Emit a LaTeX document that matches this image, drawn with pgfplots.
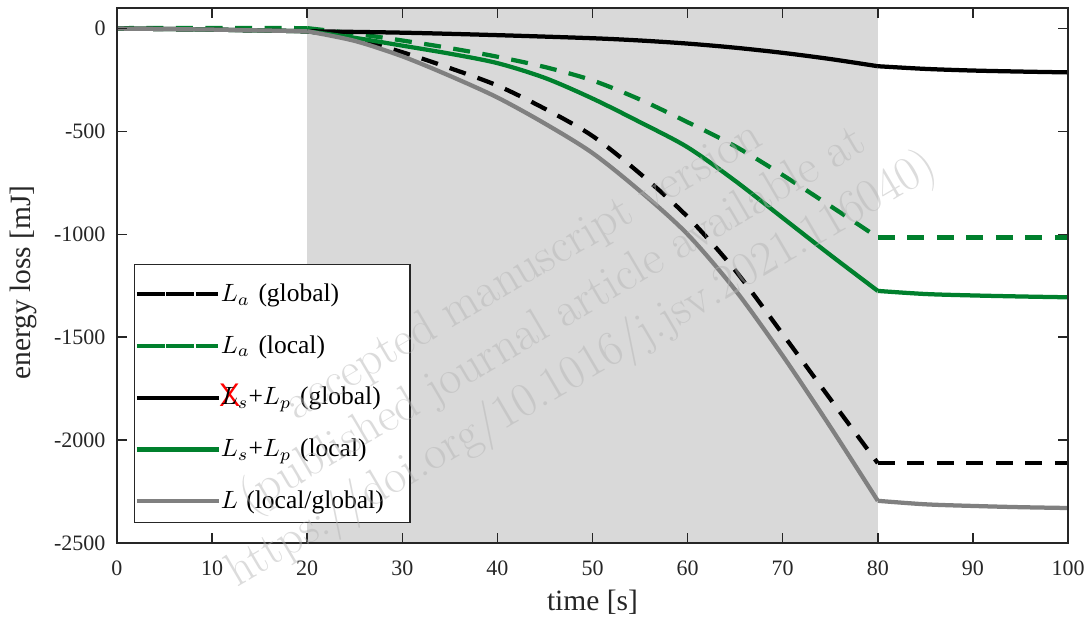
\documentclass[border=0pt]{standalone}
\usepackage{fontspec}
\usepackage{pgfplots}
\pgfplotsset{compat=1.18}
\newfontfamily\tnr{Liberation Serif}
\definecolor{axcol}{RGB}{38,38,38}
\definecolor{mgreen}{RGB}{0,128,45}
\definecolor{lgray}{RGB}{128,128,128}
\definecolor{shade}{RGB}{217,217,217}
\definecolor{wmcol}{RGB}{180,180,180}
\begin{document}
\begin{tikzpicture}
\begin{axis}[
  width=380.4pt, height=214pt, scale only axis,
  xmin=0, xmax=100, ymin=-2500, ymax=100,
  xtick={0,10,20,30,40,50,60,70,80,90,100},
  xticklabels={0,10,20,30,40,50,60,70,80,90,100},
  ytick={-2500,-2000,-1500,-1000,-500,0},
  yticklabels={-2500,-2000,-1500,-1000,-500,0},
  tick align=inside, xtick pos=both, ytick pos=both,
  major tick length=4pt,
  axis on top,
  axis line style={axcol, line width=0.6pt},
  every tick/.style={axcol, line width=0.6pt},
  tick label style={font=\tnr\fontsize{8.8}{10}\selectfont, text=axcol},
  xticklabel style={inner sep=0pt, anchor=north, yshift=-6.8pt},
  yticklabel style={inner sep=0pt, anchor=east, xshift=-4.4pt},
  xlabel={time [s]}, ylabel={energy loss [mJ]},
  label style={font=\tnr\fontsize{11.8}{13}\selectfont, text=axcol},
  xlabel style={at={(axis description cs:0.5,-0.0879)}, anchor=north, inner sep=0pt},
  ylabel style={at={(axis description cs:-0.1125,0.487)}, anchor=north, inner sep=0pt},
  legend style={at={(axis description cs:0.0179,0.0374)}, anchor=south west,
    draw=axcol, line width=0.5pt, fill=white, inner xsep=0pt, inner ysep=2pt,
    row sep=4.3pt, font=\tnr\fontsize{10.2}{12}\selectfont,
    nodes={inner sep=0pt, text height=12.8pt, text depth=3.6pt, text width=75.6pt, align=left},
    cells={anchor=base west}},
  legend image code/.code={\path (0pt,2.8pt) -- (32.8pt,2.8pt); \draw[#1] (4.4pt,2.8pt) -- (32.4pt,2.8pt);},
]
\addplot[fill=shade, draw=none, forget plot] coordinates {(20,-2500) (20,100) (80,100) (80,-2500)};

% L_a (global)
\addplot[black, line width=1.7pt, dash pattern=on 6.8pt off 5pt, forget plot] coordinates {
(0,0) (5,-2) (10,-5) (15,-9) (20,-13)};
\addplot[black, line width=1.7pt, dash pattern=on 6.8pt off 5pt, forget plot] coordinates {
(80,-2112) (100,-2112)};
\addplot[black, line width=1.7pt, dash pattern=on 6.8pt off 5pt, smooth] coordinates {
(20,-13) (25,-50) (30,-115) (35,-192) (40,-277) (45,-390)
(50,-522) (55,-705) (60,-915) (65,-1175) (70,-1485)
(75,-1800) (80,-2112)};
\addlegendentry{$L_a$ (global)}

% L_a (local)
\addplot[mgreen, line width=1.7pt, dash pattern=on 6.8pt off 5pt, forget plot] coordinates {
(0,2) (10,3) (20,2)};
\addplot[mgreen, line width=1.7pt, dash pattern=on 6.8pt off 5pt, forget plot] coordinates {
(80,-1015) (100,-1015)};
\addplot[mgreen, line width=1.7pt, dash pattern=on 6.8pt off 5pt, smooth] coordinates {
(20,2) (25,-25) (30,-58) (35,-95) (40,-137) (45,-187) (50,-252)
(55,-345) (60,-455) (65,-572) (70,-712) (75,-862) (80,-1015)};
\addlegendentry{$L_a$ (local)}

% Ls+Lp (global)
\addplot[black, line width=1.7pt, forget plot] coordinates {
(0,0) (5,-2) (10,-5) (15,-9) (20,-13)};
\addplot[black, line width=1.7pt, smooth, forget plot] coordinates {
(80,-183) (85,-196) (90,-204) (95,-209) (100,-213)};
\addplot[black, line width=1.7pt, smooth] coordinates {
(20,-13) (30,-20) (40,-32) (50,-47) (55,-58) (60,-73) (65,-93) (70,-118) (75,-148) (80,-183)};
\addlegendentry{\rlap{\raisebox{-0.6pt}{\hspace{-0.6pt}\textcolor{red}{\fontsize{13}{13}\sffamily X}}}$L_s$+$L_p$ (global)}

% Ls+Lp (local)
\addplot[mgreen, line width=1.7pt, forget plot] coordinates {
(0,0) (5,-2) (10,-5) (15,-9) (20,-13)};
\addplot[mgreen, line width=1.7pt, smooth, forget plot] coordinates {
(80,-1275) (85,-1290) (90,-1297) (95,-1302) (100,-1306)};
\addplot[mgreen, line width=1.7pt, smooth] coordinates {
(20,-13) (25,-45) (30,-83) (35,-122) (40,-168) (45,-240)
(50,-340) (55,-455) (60,-577) (65,-740) (70,-920) (75,-1100) (80,-1275)};
\addlegendentry{$L_s$+$L_p$ (local)}

% L (local/global)
\addplot[lgray, line width=1.7pt, forget plot] coordinates {
(0,0) (5,-2) (10,-5) (15,-9) (20,-13)};
\addplot[lgray, line width=1.7pt, smooth, forget plot] coordinates {
(80,-2295) (85,-2312) (90,-2320) (95,-2326) (100,-2330)};
\addplot[lgray, line width=1.7pt, smooth] coordinates {
(20,-13) (25,-60) (30,-135) (35,-230) (40,-335) (45,-462)
(50,-605) (55,-790) (60,-1000) (65,-1270) (70,-1590) (75,-1935) (80,-2295)};
\addlegendentry{$L$ (local/global)}

\coordinate (wm) at (axis cs:45.95,-1427);
\end{axis}
\node[rotate=30.5, align=center, text=wmcol, text opacity=0.47, font=\fontsize{19.2}{22.8}\selectfont] at (wm)
  {accepted manuscript version\\(published journal article available at\\https://doi.org/10.1016/j.jsv.2021.116040)};
\pgfresetboundingbox
\path[use as bounding box] ([shift={(-46.8pt,-30.4pt)}]current axis.south west) rectangle ([shift={(9.2pt,3.2pt)}]current axis.north east);
\end{tikzpicture}
\end{document}
